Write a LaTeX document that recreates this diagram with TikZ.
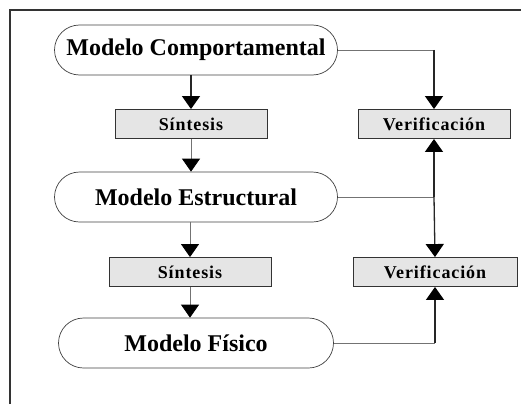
\documentclass[tikz,border=0pt]{standalone}
\usepackage{fontspec}
\setmainfont{Liberation Serif}
\usetikzlibrary{arrows.meta}

\begin{document}
\begin{tikzpicture}[x=1pt,y=-1pt,
    modelo/.style={draw=black!75, line width=0.7pt, rounded corners=25pt,
      minimum width=283pt, minimum height=50pt, inner sep=0pt,
      font=\bfseries\fontsize{24}{28}\selectfont},
    paso/.style={draw=black!80, line width=0.9pt, fill=black!10,
      minimum height=29pt, inner sep=0pt,
      font=\bfseries\fontsize{18}{22}\selectfont\addfontfeature{LetterSpace=5}},
    flecha/.style={-{Triangle[width=18pt,length=13pt,black]}},
    grueso/.style={draw=black!85, line width=1.3pt},
    fino/.style={draw=black!55, line width=0.8pt}]
    \useasboundingbox (0,0) rectangle (521,404);

    % marco
    \draw[black!80, line width=1.4pt] (10,404) -- (10,10) -- (521,10);

    % modelos
    \node[modelo] (comp) at (196,50) {Modelo Comportamental};
    \node[modelo] (estr) at (196,197) {Modelo Estructural};
    \node[modelo, minimum width=275pt] (fis) at (196,343) {Modelo F\'isico};

    % pasos
    \node[paso, minimum width=152pt] (sint1) at (191,124) {S\'intesis};
    \node[paso, minimum width=162pt] (sint2) at (190,272) {S\'intesis};
    \node[paso, minimum width=152pt] (ver1) at (434,124) {Verificaci\'on};
    \node[paso, minimum width=164pt] (ver2) at (435,272) {Verificaci\'on};

    \coordinate (junta) at (ver1 |- estr.east);

    % sintesis
    \draw[grueso, flecha] (sint1 |- comp.south) -- (sint1.north);
    \draw[fino, flecha] (sint1.south) -- (sint1 |- estr.north);
    \draw[fino, flecha] (sint2 |- estr.south) -- (sint2.north);
    \draw[fino, flecha] (sint2.south) -- (sint2 |- fis.north);

    % verificacion
    \draw[fino] (comp.east) -- (comp.east -| ver1);
    \draw[grueso, flecha] (comp.east -| ver1) -- (ver1.north);
    \draw[fino] (estr.east) -- (junta);
    \draw[grueso, flecha] (junta) -- (ver1.south);
    \draw[grueso, flecha] (junta) -- (ver2 |- ver2.north);
    \draw[fino] (fis.east) -- (fis.east -| ver2);
    \draw[grueso, flecha] (fis.east -| ver2) -- (ver2.south);
\end{tikzpicture}
\end{document}
